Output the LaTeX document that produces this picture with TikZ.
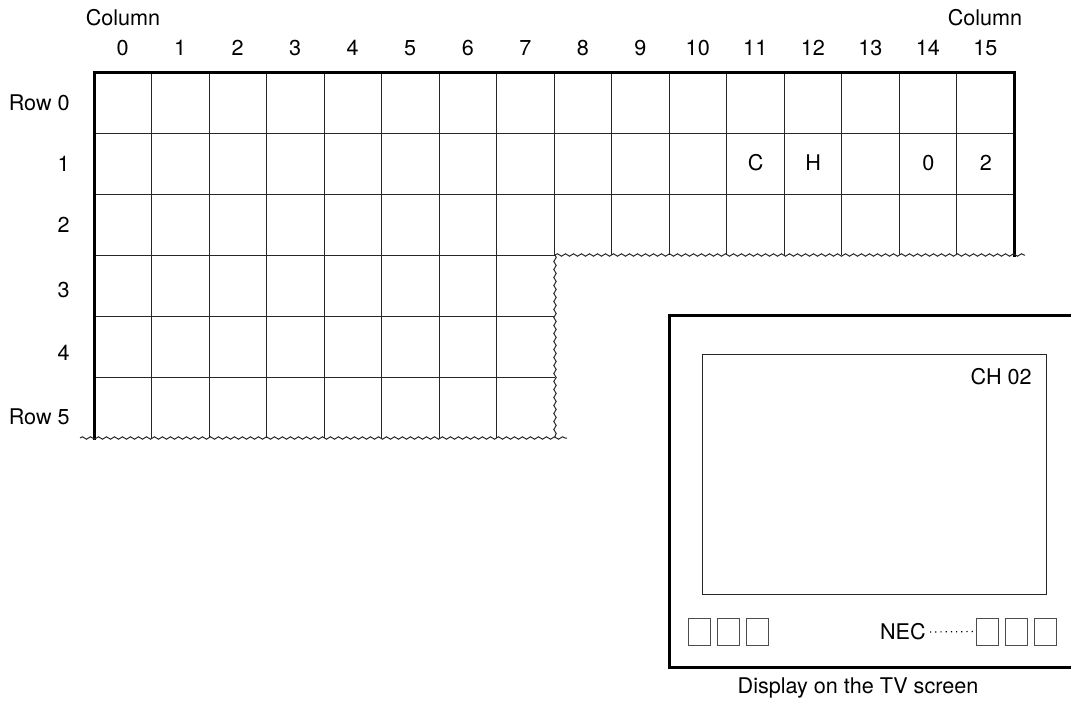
\documentclass[tikz,border=0pt]{standalone}
\usepackage{fontspec}
\setmainfont{TeX Gyre Heros}
\usetikzlibrary{decorations.pathmorphing}

\begin{document}
\begin{tikzpicture}[
    x=0.5pt, y=-0.5pt,
    label/.style={font=\fontsize{10.8}{12}\selectfont, inner sep=1pt},
    thick line/.style={line width=1.5pt, line cap=rect},
    thin line/.style={line width=0.5pt, black!85},
    wavy/.style={thin line, decorate, decoration={snake, segment length=4pt, amplitude=0.6pt}},
    key/.style={draw, black!70, line width=0.5pt, minimum width=11pt, minimum height=13.5pt, inner sep=0pt},
    dots/.style={dotted, line width=0.6pt, shorten <=1pt}
]
    \useasboundingbox (0,0) rectangle (1071,708);

    % character grid: column lines every 57.5, row lines every 61
    \foreach \j in {1,2}
        \draw[thin line] (94,72+61*\j) -- (1014,72+61*\j);
    \foreach \j in {3,4,5}
        \draw[thin line] (94,72+61*\j) -- (555,72+61*\j);
    \foreach \i in {1,...,7}
        \draw[thin line] (94+57.5*\i,72) -- (94+57.5*\i,438);
    \foreach \i in {8,...,15}
        \draw[thin line] (94+57.5*\i,72) -- (94+57.5*\i,255);
    \draw[thick line] (94,438) -- (94,72) -- (1014,72) -- (1014,255);

    % broken-off edges
    \draw[wavy] (555,255) -- (1025,255);
    \draw[wavy] (555,255) -- (555,438);
    \draw[wavy] (80,438) -- (567,438);

    % column and row numbers
    \node[label] (colL) at (123,18) {Column};
    \node[label] (colR) at (985,18) {Column};
    \foreach \i in {0,...,15}
        \node[label] (col\i) at (94+57.5*\i+28.75,48) {\i};
    \node[label, anchor=east] (row0) at (72,103) {Row 0};
    \node[label, anchor=east] (row1) at (72,164) {1};
    \node[label, anchor=east] (row2) at (72,225) {2};
    \node[label, anchor=east] (row3) at (72,290) {3};
    \node[label, anchor=east] (row4) at (72,353) {4};
    \node[label, anchor=east] (row5) at (72,417) {Row 5};

    % characters in row 1
    \node[label] (chC) at (755.75,163) {C};
    \node[label] (chH) at (813.25,163) {H};
    \node[label] (chZero) at (928.25,163) {0};
    \node[label] (chTwo) at (985.75,163) {2};

    % TV set
    \draw[thick line, line cap=butt] (1075,315) -- (669,315) -- (669,667) -- (1075,667);
    \draw[thin line] (702,354) rectangle (1046,594);
    \node[label, anchor=east] (osd) at (1034,377) {CH 02};

    \node[key] (keyL1) at (699,631.5) {};
    \node[key] (keyL2) at (728,631.5) {};
    \node[key] (keyL3) at (757,631.5) {};
    \node[key] (keyR1) at (987,631.5) {};
    \node[key] (keyR2) at (1016,631.5) {};
    \node[key] (keyR3) at (1045,631.5) {};
    \node[label, anchor=east] (nec) at (928,632) {NEC};
    \draw[dots] (nec.east) -- (keyR1.west);

    \node[label] (caption) at (858,688) {Display on the TV screen};
\end{tikzpicture}
\end{document}
